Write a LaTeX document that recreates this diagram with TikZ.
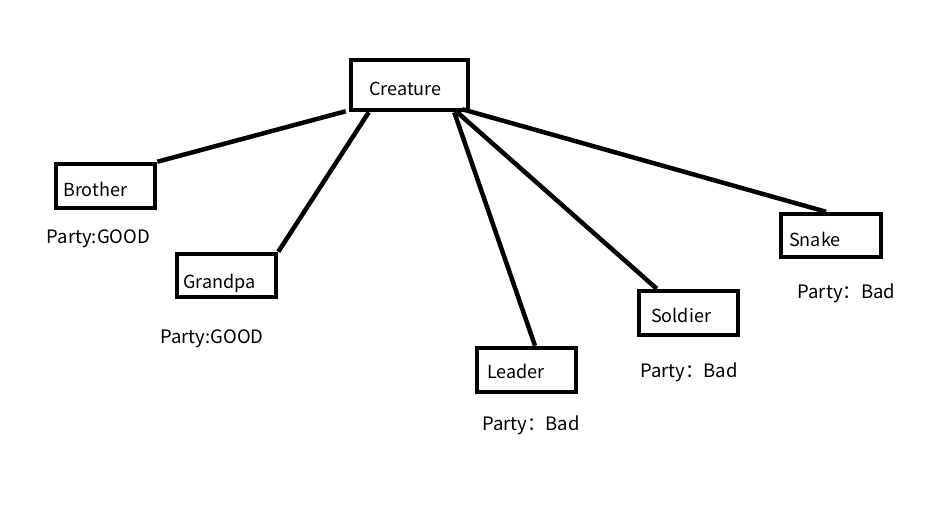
\documentclass[tikz,border=0pt]{standalone}
\usepackage{fontspec}
\setmainfont{Noto Sans CJK SC}
\begin{document}
\begin{tikzpicture}[x=1pt,y=-1pt,
  box/.style={draw=black,line width=4.5pt,rectangle,inner sep=0pt,minimum width=99pt,minimum height=44pt},
  txt/.style={anchor=west,inner sep=0pt,yshift=-1.5pt,font=\fontsize{18}{20}\selectfont},
  party/.style={inner sep=0pt,yshift=-2pt,font=\fontsize{18.5}{20}\selectfont},
  link/.style={line width=4.5pt}]
\fill[white] (0,0) rectangle (949,519);
\useasboundingbox (0,0) rectangle (949,519);
\node[box,minimum width=117pt,minimum height=50pt] (creature) at (409.5,85) {};
\node[box] (brother) at (105.5,186) {};
\node[box,minimum height=43pt] (grandpa) at (226.5,275.5) {};
\node[box] (leader) at (526.5,370) {};
\node[box] (soldier) at (688.5,313) {};
\node[box,minimum width=100pt,minimum height=43pt] (snake) at (831,235.5) {};
\node[txt] (tcreature) at (369,87) {Creature};
\node[txt] (tbrother) at (63,188) {Brother};
\node[txt] (tgrandpa) at (183,282) {Grandpa};
\node[txt] (tleader) at (487,370) {Leader};
\node[txt] (tsoldier) at (651,314) {Soldier};
\node[txt] (tsnake) at (789,238) {Snake};
\node[party] (pbrother) at (98.5,237) {Party:GOOD};
\node[party] (pgrandpa) at (212,337) {Party:GOOD};
\node[party] (pleader) at (531,423) {Party：Bad};
\node[party] (psoldier) at (689,370) {Party：Bad};
\node[party] (psnake) at (846.5,291) {Party：Bad};
\draw[link] ([xshift=-3pt,yshift=1pt]creature.south west) -- (brother.north east);
\draw[link] ([xshift=20pt]creature.south west) -- (grandpa.north east);
\draw[link] ([xshift=-16pt]creature.south east) -- ([xshift=8.5pt]leader.north);
\draw[link] ([xshift=-13pt]creature.south east) -- ([xshift=20pt]soldier.north west);
\draw[link] ([xshift=-8pt,yshift=3pt]creature.south east) -- ([xshift=-5pt]snake.north);
\end{tikzpicture}
\end{document}
